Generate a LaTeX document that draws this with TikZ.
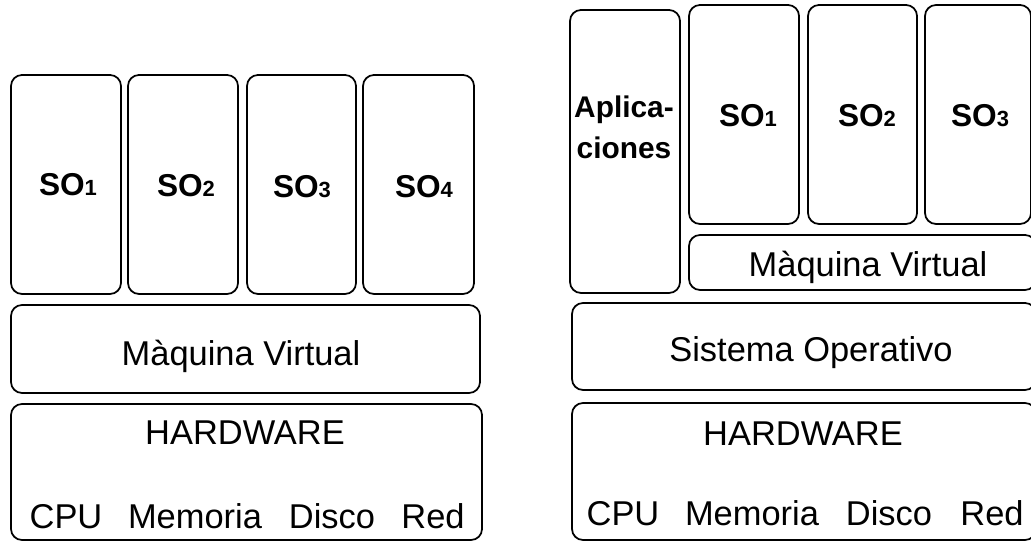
\documentclass[tikz,border=0pt]{standalone}
\usepackage{fontspec}
\setmainfont{Liberation Sans}
\usetikzlibrary{fit}
\newcommand\osidx[1]{{\fontsize{12.5}{14}\selectfont #1}}
\begin{document}
\begin{tikzpicture}[x=0.02cm,y=-0.02cm,
  layer/.style={draw=black, line width=1pt, rounded corners=0.22cm, inner sep=0pt},
  txt/.style={anchor=base, inner sep=0pt, font=\fontsize{19.6}{23}\selectfont},
  oslbl/.style={anchor=base, inner sep=0pt, font=\fontsize{18}{22}\selectfont\bfseries},
  applbl/.style={anchor=base, inner sep=0pt, font=\fontsize{17}{21}\selectfont\bfseries}]
\useasboundingbox (0,0) rectangle (1031,543);
\clip (0,0) rectangle (1031,543);
\fill[white] (0,0) rectangle (1031,543);

% ---- left stack: virtual machine directly on hardware ----
\node[layer, fit={(11,75) (121,294)}] (lso1) {};
\node[layer, fit={(128,75) (238,294)}] (lso2) {};
\node[layer, fit={(247,75) (356,294)}] (lso3) {};
\node[layer, fit={(363,75) (474,294)}] (lso4) {};
\node[layer, fit={(11,305) (480,393)}] (lmv) {};
\node[layer, fit={(11,404) (482,540)}] (lhw) {};

\node[oslbl] (tlso1) at (68,196) {SO\osidx{1}};
\node[oslbl] (tlso2) at (186,197) {SO\osidx{2}};
\node[oslbl] (tlso3) at (302,198) {SO\osidx{3}};
\node[oslbl] (tlso4) at (424,198) {SO\osidx{4}};
\node[txt] (tlmv) at (241,366) {Màquina Virtual};
\node[txt] (tlhw) at (245,445) {HARDWARE};
\node[txt] (tlcpu) at (66,529) {CPU};
\node[txt] (tlmem) at (195,529) {Memoria};
\node[txt] (tldis) at (332,529) {Disco};
\node[txt] (tlred) at (433,529) {Red};

% ---- right stack: virtual machine on a host operating system ----
\node[layer, fit={(570,10) (680,293)}] (rapp) {};
\node[layer, fit={(689,5) (799,224)}] (rso1) {};
\node[layer, fit={(808,5) (917,224)}] (rso2) {};
\node[layer, fit={(925,5) (1031,224)}] (rso3) {};
\node[layer, fit={(689,235) (1036,290)}] (rmv) {};
\node[layer, fit={(572,303) (1036,390)}] (rsys) {};
\node[layer, fit={(572,403) (1036,540)}] (rhw) {};

\node[applbl] (tapp1) at (624,118) {Aplica-};
\node[applbl] (tapp2) at (624,159) {ciones};
\node[oslbl] (trso1) at (748,127) {SO\osidx{1}};
\node[oslbl] (trso2) at (867,127) {SO\osidx{2}};
\node[oslbl] (trso3) at (980,127) {SO\osidx{3}};
\node[txt] (trmv) at (868,277) {Màquina Virtual};
\node[txt] (trsys) at (811,362) {Sistema Operativo};
\node[txt] (trhw) at (803,446) {HARDWARE};
\node[txt] (trcpu) at (623,525) {CPU};
\node[txt] (trmem) at (752,525) {Memoria};
\node[txt] (trdis) at (889,525) {Disco};
\node[txt] (trred) at (992,525) {Red};
\end{tikzpicture}
\end{document}
